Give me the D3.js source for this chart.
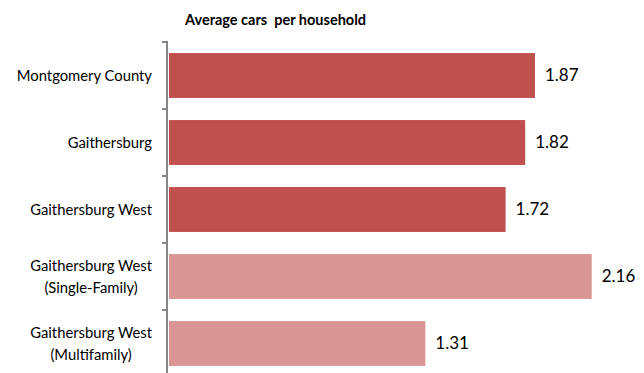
<!DOCTYPE html>
<html><head><meta charset="utf-8">
<script src="https://cdn.jsdelivr.net/npm/d3@7"></script>
<style>body{margin:0;background:#fff}svg{display:block}</style>
</head><body>
<script>
const categories = [["Montgomery County"],["Gaithersburg"],["Gaithersburg West"],["Gaithersburg West","(Single-Family)"],["Gaithersburg West","(Multifamily)"]];
const values = [1.87, 1.82, 1.72, 2.16, 1.31];
const barColors = ["#C0504D","#C0504D","#C0504D","#D99694","#D99694"];
const title = "Average cars  per household";

const W = 644, H = 373;
const font = "Lato, 'Open Sans', sans-serif";
const svg = d3.select("body").append("svg").attr("width", W).attr("height", H);

const x = d3.scaleLinear().domain([0, 1]).range([169, 364.7]);
const y = d3.scaleBand().domain(d3.range(values.length)).range([42, 377]).paddingInner(0.33).paddingOuter(0.165);

svg.append("text").attr("x", 185).attr("y", 25).attr("font-family", font)
  .attr("font-weight", "bold").attr("font-size", 14.5).attr("fill", "#000")
  .style("white-space", "pre").text(title);

svg.selectAll("rect.bar").data(values).join("rect").attr("class","bar")
  .attr("x", x(0)).attr("y", (d,i)=>y(i)).attr("width", d=>x(d)-x(0)).attr("height", y.bandwidth())
  .attr("fill", (d,i)=>barColors[i]);

// axis
const axisG = svg.append("g").attr("transform", "translate(167,0)");
const step = y.step();
const tickPos = d3.range(values.length+1).map(i => 42 + i*step);
axisG.append("line").attr("x1",0).attr("x2",0).attr("y1",41).attr("y2",380).attr("stroke","#868686").attr("stroke-width",2);
axisG.selectAll("line.t").data(tickPos).join("line").attr("class","t")
  .attr("x1",-5).attr("x2",0).attr("y1",d=>d).attr("y2",d=>d).attr("stroke","#868686").attr("stroke-width",2);

// value labels
svg.selectAll("text.v").data(values).join("text").attr("class","v")
  .attr("x", d=>x(d)+10).attr("y", (d,i)=>y(i)+y.bandwidth()/2).attr("dy","0.35em")
  .attr("font-family", font).attr("font-size", 17).attr("fill","#000").text(d=>d.toFixed(2));

// category labels: block right-aligned at 152, lines centered
const lh = 22;
categories.forEach((lines, i) => {
  const cy = y(i) + y.bandwidth()/2;
  const g = svg.append("g");
  const texts = lines.map((l, j) => g.append("text").attr("font-family", font).attr("font-size", 14.8)
    .attr("fill","#000").attr("text-anchor","middle")
    .attr("y", cy + (j - (lines.length-1)/2)*lh).attr("dy","0.35em").text(l));
  const maxW = d3.max(texts, t => t.node().getComputedTextLength());
  texts.forEach(t => t.attr("x", 152 - maxW/2));
});
</script>
</body></html>
